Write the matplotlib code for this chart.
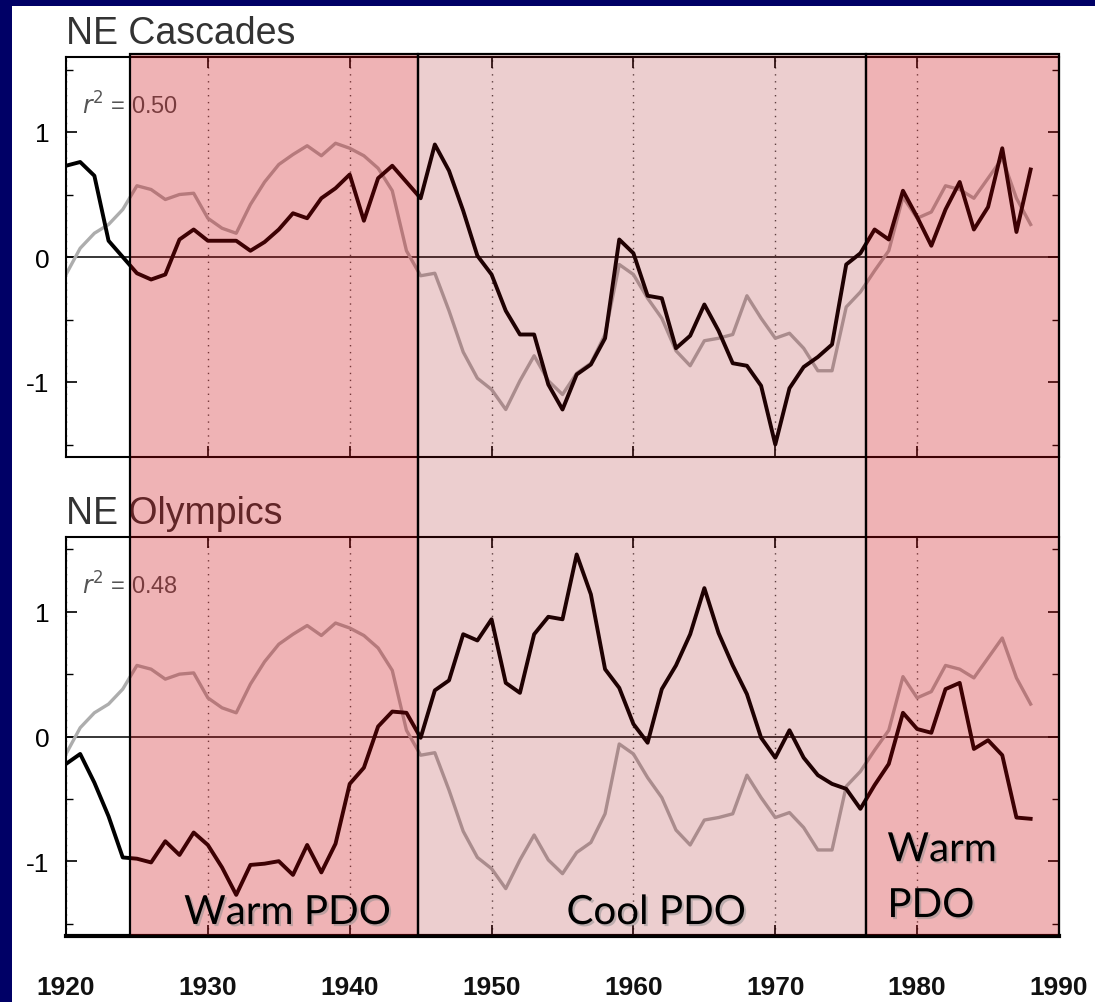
import matplotlib
matplotlib.use("Agg")
import matplotlib.pyplot as plt
import matplotlib.patheffects as pe
from matplotlib.patches import Rectangle
from matplotlib.transforms import blended_transform_factory
from matplotlib.ticker import MultipleLocator

plt.rcParams["axes.unicode_minus"] = False
plt.rcParams["font.family"] = ["Liberation Sans", "DejaVu Sans"]

years = list(range(1920, 1989))

# black line, top panel
cascades = [0.73, 0.76, 0.65, 0.13, 0.00, -0.13, -0.18, -0.14, 0.14, 0.22,
            0.13, 0.13, 0.13, 0.05, 0.12, 0.22, 0.35, 0.31, 0.47, 0.55,
            0.66, 0.29, 0.63, 0.73, 0.60, 0.47, 0.90, 0.69, 0.37, 0.01,
            -0.14, -0.43, -0.62, -0.62, -1.02, -1.22, -0.94, -0.86, -0.65, 0.14,
            0.03, -0.31, -0.33, -0.73, -0.63, -0.38, -0.59, -0.85, -0.87, -1.03,
            -1.50, -1.05, -0.88, -0.80, -0.70, -0.06, 0.03, 0.22, 0.14, 0.53,
            0.32, 0.09, 0.38, 0.60, 0.22, 0.40, 0.87, 0.20, 0.70]

# black line, bottom panel
olympics = [-0.22, -0.14, -0.37, -0.64, -0.97, -0.98, -1.01, -0.84, -0.95, -0.77,
            -0.87, -1.05, -1.27, -1.03, -1.02, -1.00, -1.11, -0.87, -1.09, -0.86,
            -0.38, -0.25, 0.08, 0.20, 0.19, -0.01, 0.37, 0.45, 0.82, 0.77,
            0.94, 0.43, 0.35, 0.82, 0.96, 0.94, 1.46, 1.14, 0.54, 0.39,
            0.10, -0.05, 0.38, 0.57, 0.82, 1.19, 0.83, 0.57, 0.34, -0.01,
            -0.17, 0.05, -0.17, -0.31, -0.38, -0.42, -0.58, -0.39, -0.22, 0.19,
            0.06, 0.03, 0.38, 0.43, -0.10, -0.03, -0.15, -0.65, -0.66]

# gray line (same in both panels)
pdo = [-0.14, 0.07, 0.19, 0.26, 0.38, 0.57, 0.54, 0.46, 0.50, 0.51,
       0.31, 0.23, 0.19, 0.42, 0.60, 0.74, 0.82, 0.89, 0.81, 0.91,
       0.87, 0.81, 0.71, 0.53, 0.05, -0.15, -0.13, -0.43, -0.76, -0.97,
       -1.06, -1.22, -0.99, -0.79, -0.99, -1.10, -0.93, -0.85, -0.62, -0.06,
       -0.14, -0.33, -0.49, -0.75, -0.87, -0.67, -0.65, -0.62, -0.31, -0.49,
       -0.65, -0.61, -0.73, -0.91, -0.91, -0.40, -0.28, -0.11, 0.05, 0.48,
       0.31, 0.36, 0.57, 0.54, 0.47, 0.63, 0.79, 0.47, 0.26]

panel_titles = ["NE Cascades", "NE Olympics"]
r2_labels = ["0.50", "0.48"]

phases = [(1924.5, 1944.8, "warm"),
          (1944.8, 1976.4, "cool"),
          (1976.4, 1990.0, "warm")]
phase_colors = {"warm": (205 / 255, 5 / 255, 12 / 255, 0.30),
                "cool": (160 / 255, 10 / 255, 15 / 255, 0.20)}

W, H = 1095, 1003
fig = plt.figure(figsize=(W / 100, H / 100), dpi=100, facecolor="#000066")
fig.add_artist(Rectangle((12 / W, 0), 1, 1 - 7 / H, transform=fig.transFigure,
                         facecolor="white", edgecolor="none", zorder=-5))

ax1 = fig.add_axes([66 / W, 1 - 458 / H, 993 / W, 400 / H])
ax2 = fig.add_axes([66 / W, 1 - 937 / H, 993 / W, 399 / H])

for ax, series, title, r2 in zip([ax1, ax2], [cascades, olympics], panel_titles, r2_labels):
    ax.plot(years, pdo, color="#adadad", lw=2.4, zorder=2)
    ax.plot(years, series, color="black", lw=2.8, zorder=3)
    ax.axhline(0, color="black", lw=1.1, zorder=1)
    ax.set_xlim(1920, 1990)
    ax.set_ylim(-1.6, 1.6)
    ax.xaxis.set_major_locator(MultipleLocator(10))
    ax.set_yticks([-1, 0, 1])
    ax.set_yticklabels(["-1", "0", "1"])
    ax.yaxis.set_minor_locator(MultipleLocator(0.5))
    ax.grid(axis="x", linestyle=(0, (1, 4)), color="0.3", lw=1)
    ax.tick_params(which="both", direction="in", left=True, right=True,
                   top=True, bottom=True, labelsize=19, pad=12, colors="black")
    ax.tick_params(which="major", length=8, width=1.2)
    ax.tick_params(which="minor", length=5, width=1)
    for s in ax.spines.values():
        s.set_linewidth(1.5)
    ax.set_title(title, loc="left", fontsize=27, color="#333333", pad=10)
    ax.text(0.016, 0.88, r"$r^2$ = " + r2, transform=ax.transAxes, fontsize=17,
            color="#555555", va="center", ha="left")

ax1.tick_params(axis="x", labelbottom=False)
ax2.spines["bottom"].set_linewidth(3)
ax2.set_xticks(range(1920, 1991, 10))
ax2.set_xticklabels([str(y) for y in range(1920, 1991, 10)],
                    fontsize=19, fontweight="bold", color="#111111")
ax2.tick_params(axis="x", pad=28)

# PDO phase boxes spanning both panels
trans = blended_transform_factory(ax2.transData, fig.transFigure)
y0, y1 = 1 - 937 / H, 1 - 55 / H
for start, end, kind in phases:
    fig.add_artist(Rectangle((start, y0), end - start, y1 - y0, transform=trans,
                             facecolor=phase_colors[kind], edgecolor="black",
                             lw=1.6, zorder=4))

ttrans = blended_transform_factory(ax2.transData, ax2.transAxes)
lato = ["Lato", "DejaVu Sans"]
shadow = [pe.SimplePatchShadow(offset=(1.5, -1.5), shadow_rgbFace="0.6", alpha=0.6),
          pe.Normal()]
labels = [("Warm PDO", 1935.6, 0.03, "center"),
          ("Cool PDO", 1961.6, 0.03, "center"),
          ("Warm", 1977.9, 0.1875, "left"),
          ("PDO", 1977.9, 0.0475, "left")]
for text, x, y, ha in labels:
    fig.text(x, y, text, transform=ttrans, ha=ha, va="baseline", fontsize=29,
             family=lato, zorder=6, path_effects=[pe.withSimplePatchShadow(
                 offset=(1.5, -1.5), shadow_rgbFace="0.55", alpha=0.5)])

fig.savefig("out.png", dpi=100, facecolor=fig.get_facecolor())
